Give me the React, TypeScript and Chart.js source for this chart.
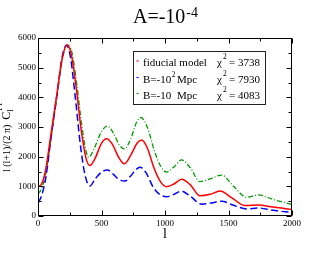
import React, { useEffect, useRef } from "react";
import { Chart, registerables } from "chart.js";
Chart.register(...registerables);

const SERIF = "'Liberation Serif', 'Times New Roman', serif";

const lRed = [2, 25, 60, 100, 150, 190, 228, 262, 300, 340, 378, 408, 450, 500, 540, 585, 635, 680, 730, 780, 816, 860, 915, 965, 1013, 1070, 1131, 1200, 1275, 1355, 1433, 1530, 1630, 1735, 1850, 2000];
const cRed = [1000, 1050, 1550, 2700, 4150, 5300, 5760, 5450, 4350, 2900, 1950, 1700, 1950, 2450, 2600, 2420, 1980, 1760, 2050, 2450, 2560, 2300, 1600, 1150, 990, 1080, 1240, 1050, 680, 730, 840, 600, 350, 375, 300, 220];

const lBlue = [2, 25, 60, 100, 150, 190, 224, 256, 295, 335, 372, 409, 450, 500, 546, 590, 640, 685, 730, 770, 805, 850, 910, 960, 1013, 1070, 1131, 1200, 1289, 1365, 1446, 1540, 1643, 1735, 1850, 2000];
const cBlue = [450, 650, 1250, 2550, 4100, 5350, 5760, 5350, 3950, 2350, 1350, 1010, 1250, 1480, 1550, 1420, 1220, 1180, 1350, 1560, 1640, 1460, 950, 720, 650, 730, 840, 660, 400, 440, 500, 360, 240, 270, 190, 120];

const lGreen = [2, 25, 60, 100, 150, 190, 232, 268, 305, 345, 380, 400, 440, 500, 546, 590, 640, 680, 730, 775, 811, 860, 920, 970, 1013, 1070, 1131, 1200, 1275, 1360, 1446, 1540, 1643, 1735, 1850, 2000];
const cGreen = [750, 900, 1400, 2550, 4050, 5250, 5760, 5500, 4450, 3050, 2150, 1980, 2250, 2850, 3030, 2820, 2400, 2260, 2600, 3150, 3320, 3000, 2150, 1650, 1480, 1650, 1890, 1620, 1160, 1260, 1380, 1000, 630, 710, 560, 390];

const xRange = [0, 2000];
const yRange = [0, 6000];
const xMajor = 500;
const xMinor = 250;
const yMajor = 1000;
const yMinor = 500;

const titleMain = "A=-10";
const titleSup = "-4";
const legendNames = ["fiducial model", "B=-10", "B=-10"];
const legendSups = ["", "2", ""];
const legendUnits = ["", "Mpc", "Mpc"];
const chiValues = [3738, 7930, 4083];
const colors = ["#ff0000", "#0000ff", "#009a00"];
const dashes: number[][] = [[], [7, 3.5], [5, 2, 1, 2]];

const pts = (ls: number[], cs: number[]) => ls.map((l, i) => ({ x: l, y: cs[i] }));

const decor = {
  id: "decor",
  afterDraw(chart: any) {
    const { ctx, chartArea: a, scales } = chart;
    const x = scales.x;
    const y = scales.y;
    const L = Math.round(a.left) + 0.5;
    const R = Math.round(a.right) - 0.5;
    const T = Math.round(a.top) + 0.5;
    const B = Math.round(a.bottom) - 0.5;
    ctx.save();
    ctx.strokeStyle = "#000";
    ctx.lineWidth = 1;
    ctx.setLineDash([]);
    ctx.beginPath();
    for (let v = xRange[0]; v <= xRange[1]; v += xMinor) {
      const px = Math.round(x.getPixelForValue(v)) + 0.5;
      const len = v % xMajor === 0 ? 5 : 3;
      ctx.moveTo(px, B); ctx.lineTo(px, B - len);
      ctx.moveTo(px, T); ctx.lineTo(px, T + len);
    }
    for (let v = yRange[0]; v <= yRange[1]; v += yMinor) {
      const py = Math.round(y.getPixelForValue(v)) + 0.5;
      const len = v % yMajor === 0 ? 5 : 3;
      ctx.moveTo(L, py); ctx.lineTo(L + len, py);
      ctx.moveTo(R, py); ctx.lineTo(R - len, py);
    }
    ctx.stroke();
    ctx.strokeRect(L, T, R - L, B - T);

    ctx.fillStyle = "#000";
    ctx.textBaseline = "alphabetic";
    // title
    ctx.font = `20px ${SERIF}`;
    const wMain = ctx.measureText(titleMain).width;
    ctx.font = `14px ${SERIF}`;
    const wSup = ctx.measureText(titleSup).width;
    const cx = (a.left + a.right) / 2;
    const tx = cx - (wMain + wSup) / 2;
    ctx.font = `20px ${SERIF}`;
    ctx.textAlign = "left";
    ctx.fillText(titleMain, tx, 23);
    ctx.font = `14px ${SERIF}`;
    ctx.fillText(titleSup, tx + wMain + 1, 17);

    // x axis title
    ctx.font = `14px ${SERIF}`;
    ctx.textAlign = "center";
    ctx.fillText("l", cx, 238);

    // y axis title
    ctx.save();
    ctx.translate(10, 172);
    ctx.rotate(-Math.PI / 2);
    ctx.textAlign = "left";
    ctx.font = `10px ${SERIF}`;
    const lbl = "l (l+1)/(2 \u03c0)";
    ctx.fillText(lbl, 0, 0);
    const off = ctx.measureText(lbl).width + 5;
    ctx.font = `12px ${SERIF}`;
    ctx.fillText("C", off, 0);
    const wc = ctx.measureText("C").width;
    ctx.font = `8px ${SERIF}`;
    ctx.fillText("l", off + wc, 3);
    ctx.fillText("TT", off + wc, -8);
    ctx.restore();

    // legend
    const bx = 133, by = 51, bw = 132, bh = 53;
    ctx.fillStyle = "#fff";
    ctx.fillRect(bx, by, bw, bh);
    ctx.strokeStyle = "#222";
    ctx.lineWidth = 1;
    ctx.strokeRect(bx + 0.5, by + 0.5, bw, bh);
    const baselines = [66, 82.5, 98.5];
    for (let i = 0; i < 3; i++) {
      const bl = baselines[i];
      ctx.strokeStyle = colors[i];
      ctx.lineWidth = 1.2;
      ctx.beginPath();
      ctx.moveTo(136.5, bl - 5);
      ctx.lineTo(138.5, bl - 5);
      ctx.stroke();
      ctx.fillStyle = "#000";
      ctx.textAlign = "left";
      ctx.font = `11px ${SERIF}`;
      ctx.fillText(legendNames[i], 143, bl);
      const wn = ctx.measureText(legendNames[i]).width;
      if (legendSups[i]) {
        ctx.font = `7.5px ${SERIF}`;
        ctx.fillText(legendSups[i], 143 + wn + 0.5, bl - 6);
      }
      if (legendUnits[i]) {
        ctx.font = `11px ${SERIF}`;
        ctx.fillText(legendUnits[i], 177, bl);
      }
      ctx.font = `11px ${SERIF}`;
      ctx.fillText("\u03c7", 217, bl);
      ctx.font = `7.5px ${SERIF}`;
      ctx.fillText("2", 223, bl - 7);
      ctx.font = `11px ${SERIF}`;
      ctx.fillText("= " + chiValues[i], 229, bl);
    }
    ctx.restore();
  },
};

export default function App() {
  const ref = useRef<HTMLCanvasElement>(null);
  useEffect(() => {
    if (!ref.current) return;
    const tickFont = { family: SERIF, size: 9 };
    const chart = new Chart(ref.current, {
      type: "line",
      data: {
        datasets: [
          { label: "fiducial model", data: pts(lRed, cRed), borderColor: colors[0], borderWidth: 1.5, borderDash: dashes[0], pointRadius: 0, cubicInterpolationMode: "monotone", fill: false },
          { label: "B=-10^2 Mpc", data: pts(lBlue, cBlue), borderColor: colors[1], borderWidth: 1.5, borderDash: dashes[1], pointRadius: 0, cubicInterpolationMode: "monotone", fill: false },
          { label: "B=-10 Mpc", data: pts(lGreen, cGreen), borderColor: colors[2], borderWidth: 1.3, borderDash: dashes[2], pointRadius: 0, cubicInterpolationMode: "monotone", fill: false },
        ],
      },
      options: {
        responsive: false,
        animation: false,
        devicePixelRatio: 1,
        layout: { padding: { top: 38, right: 38, left: 0, bottom: 0 } },
        plugins: { legend: { display: false }, tooltip: { enabled: false }, title: { display: false } },
        scales: {
          x: {
            type: "linear",
            min: xRange[0],
            max: xRange[1],
            grid: { display: false, drawTicks: false },
            border: { display: false },
            ticks: { stepSize: xMajor, font: tickFont, color: "#000", padding: 2, maxRotation: 0, callback: (v: any) => String(v) },
            afterFit: (s: any) => { s.height = 39; },
          },
          y: {
            type: "linear",
            min: yRange[0],
            max: yRange[1],
            grid: { display: false, drawTicks: false },
            border: { display: false },
            ticks: { stepSize: yMajor, font: tickFont, color: "#000", padding: 2, callback: (v: any) => String(v) },
            afterFit: (s: any) => { s.width = 38; },
          },
        },
      } as any,
      plugins: [decor],
    });
    return () => chart.destroy();
  }, []);
  return (
    <div style={{ position: "fixed", left: 0, top: 0, width: 330, height: 255, background: "#fff" }}>
      <canvas ref={ref} width={330} height={255} style={{ display: "block" }} />
    </div>
  );
}
